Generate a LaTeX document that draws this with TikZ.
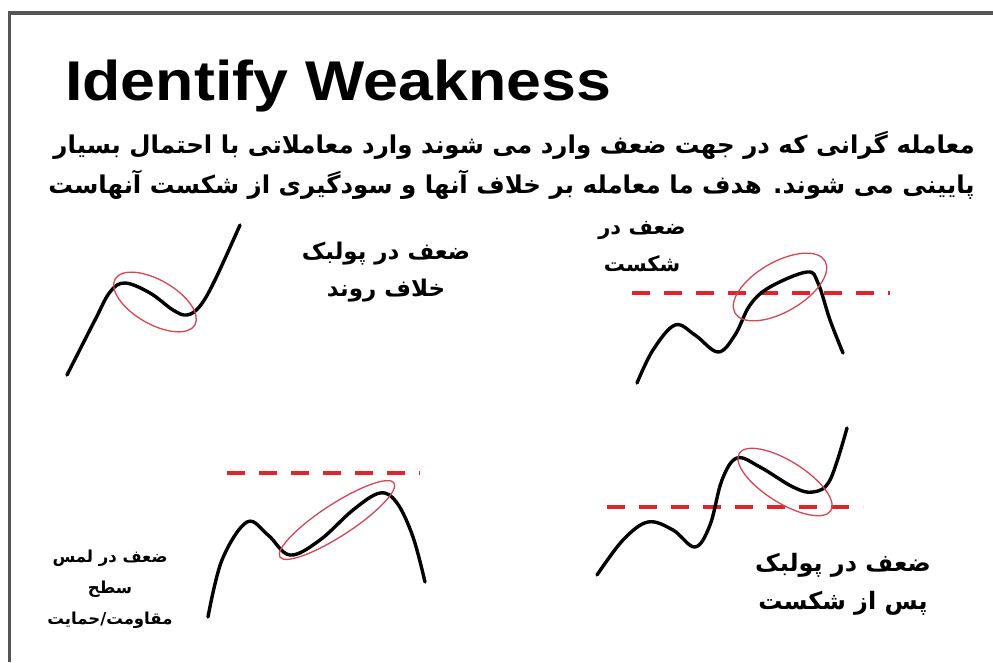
\documentclass[tikz,border=0pt]{standalone}
\usepackage{fontspec}
\setmainfont{Liberation Sans}
\newfontfamily\fafont[Script=Arabic]{DejaVu Sans}
\TeXXeTstate=1
\definecolor{framegray}{HTML}{555555}
\definecolor{levelred}{HTML}{E3222C}
\definecolor{ringred}{HTML}{D64552}
\tikzset{
  price/.style={line width=3.4pt,line cap=round,line join=round},
  level/.style={levelred,line width=4pt,dash pattern=on 18pt off 14pt},
  ring/.style={ringred,line width=1.3pt},
  falabel/.style={font=\fafont\bfseries,align=center,inner sep=0pt}
}
\begin{document}
\begin{tikzpicture}[x=1pt,y=-1pt]
\useasboundingbox (0,0) rectangle (993,662);
% frame
\draw[framegray,line width=3.5pt] (8,13) -- (993,13);
\draw[framegray,line width=3pt] (9,13) -- (9,662);
% title and intro text
\node[anchor=base west,inner sep=0pt,font=\fontsize{56}{60}\selectfont\bfseries,xscale=1.12] (title) at (65,100) {Identify Weakness};
\node[falabel,anchor=east,font=\fafont\bfseries\fontsize{24.5}{28}\selectfont] (introA) at (975,145) {\beginR معامله گرانی که در جهت ضعف وارد می شوند وارد معاملاتی با احتمال بسیار\endR};
\node[falabel,anchor=east,font=\fafont\bfseries\fontsize{24.5}{28}\selectfont] (introB) at (975,185) {\beginR پایینی می شوند. هدف ما معامله بر خلاف آنها و سودگیری از شکست آنهاست\endR};

% pullback against the trend
\draw[price] plot[smooth,tension=0.6] coordinates {(67,375) (95,320) (110,292) (125,283) (150,293) (173,310) (187,315) (200,306) (215,280) (240,225)};
\draw[ring,rotate around={-30:(155,302)}] (155,302) ellipse [x radius=46,y radius=22];
\node[falabel,font=\fafont\bfseries\fontsize{23}{37}\selectfont] (lblPull) at (386,272) {\beginR ضعف در پولبک\endR\\\beginR خلاف روند\endR};

% weakness at breakout
\draw[level] (632,293) -- (890,293);
\draw[price] plot[smooth,tension=0.6] coordinates {(637,383) (653,350) (675,325) (695,335) (718,352) (735,335) (750,305) (770,287) (807,272) (818,283) (830,320) (843,353)};
\draw[ring,rotate around={30:(780,287)}] (780,287) ellipse [x radius=52,y radius=25];
\node[falabel,font=\fafont\bfseries\fontsize{21}{37}\selectfont] (lblBreak) at (642,247) {\beginR ضعف در\endR\\\beginR شکست\endR};

% weakness at touching the level
\draw[level] (227,473) -- (420,473);
\draw[price] plot[smooth,tension=0.6] coordinates {(208,617) (222,560) (247,522) (268,535) (290,555) (320,540) (353,510) (380,493) (397,503) (413,537) (425,582)};
\draw[ring,rotate around={33:(337,520)}] (337,520) ellipse [x radius=68,y radius=16];
\node[falabel,font=\fafont\bfseries\fontsize{16.5}{31}\selectfont] (lblTouch) at (110,589) {\beginR ضعف در لمس\endR\\\beginR سطح\endR\\\beginR مقاومت/حمایت\endR};

% pullback after breakout
\draw[level] (607,507) -- (863,507);
\draw[price] plot[smooth,tension=0.6] coordinates {(597,575) (623,540) (648,522) (673,530) (695,547) (710,525) (722,480) (737,458) (760,467) (793,487) (813,492) (830,480) (847,428)};
\draw[ring,rotate around={-32:(785,482)}] (785,482) ellipse [x radius=54,y radius=21];
\node[falabel,font=\fafont\bfseries\fontsize{24}{38}\selectfont] (lblAfter) at (843,584) {\beginR ضعف در پولبک\endR\\\beginR پس از شکست\endR};
\end{tikzpicture}
\end{document}
